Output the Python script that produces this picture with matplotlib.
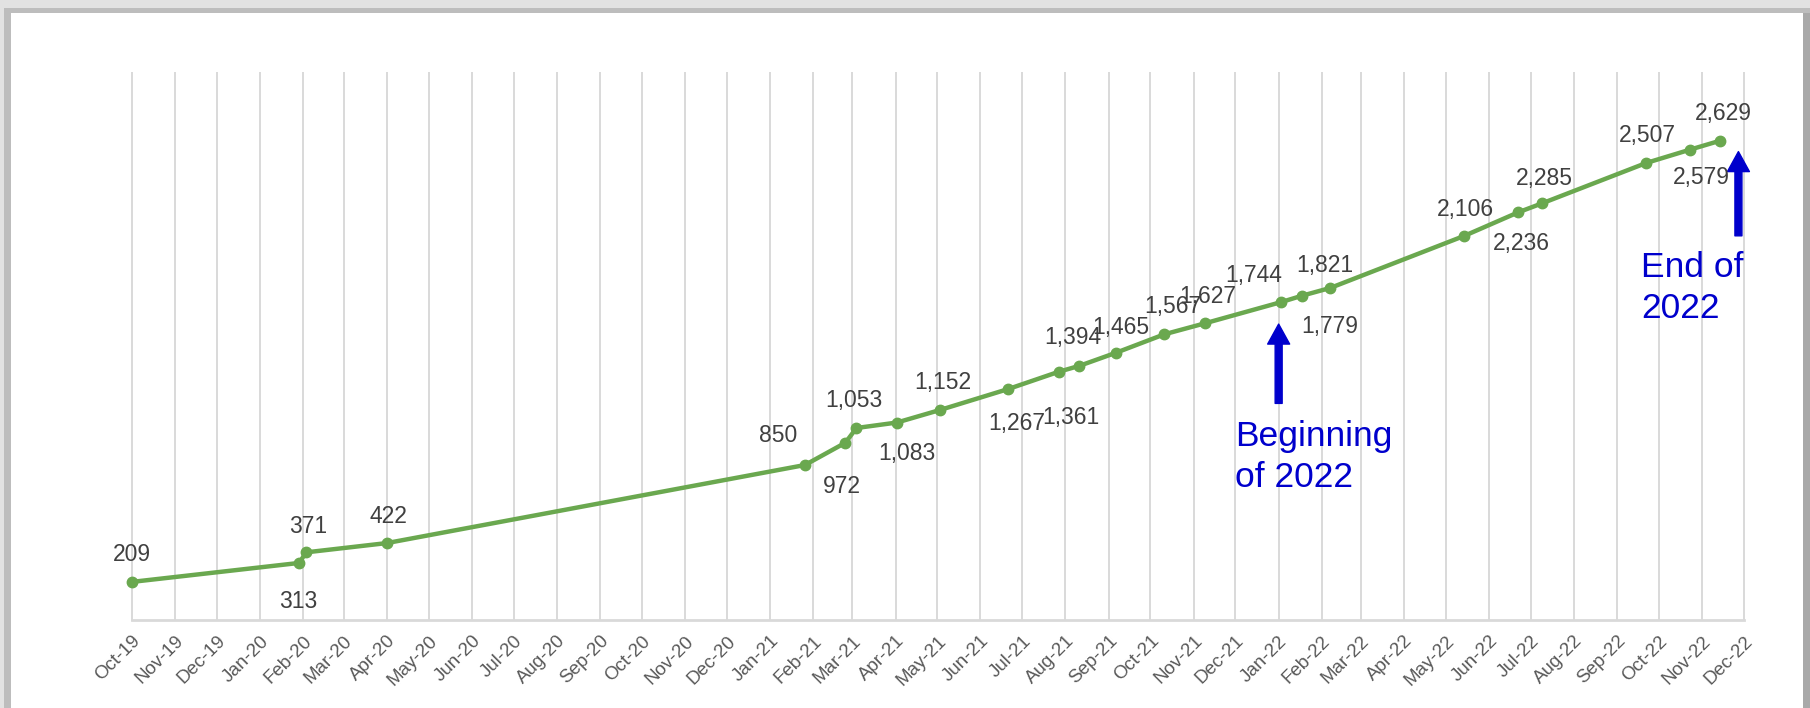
import matplotlib
matplotlib.use('Agg')
import matplotlib.pyplot as plt
import matplotlib.dates as mdates
from matplotlib.patches import Rectangle
import datetime as dt

plt.rcParams['font.family'] = ['Liberation Sans', 'DejaVu Sans']

# data
dates = ['2019-10-01', '2020-01-29', '2020-02-03', '2020-04-01',
         '2021-01-26', '2021-02-24', '2021-03-04', '2021-04-02',
         '2021-05-03', '2021-06-21', '2021-07-27', '2021-08-11',
         '2021-09-06', '2021-10-11', '2021-11-09', '2022-01-03',
         '2022-01-18', '2022-02-07', '2022-05-14', '2022-06-22',
         '2022-07-09', '2022-09-22', '2022-10-23', '2022-11-14']
values = [209, 313, 371, 422, 850, 972, 1053, 1083, 1152, 1267, 1361, 1394,
          1465, 1567, 1627, 1744, 1779, 1821, 2106, 2236, 2285, 2507, 2579, 2629]

# label offsets from each marker, in pixels (dx, dy)
label_dx = [0, -1, 2, 1, -27, -3, -3, 10, 3, 8, 12, -7,
            5, 8, 3, -28, 27, -5, 1, 3, 2, 1, 12, 3]
label_dy = [27, -39, 26, 27, 30, -44, 28, -31, 27, -35, -46, 28,
            25, 28, 27, 27, -31, 22, 27, -31, 25, 27, -28, 27]

x = [dt.datetime.strptime(d, '%Y-%m-%d') for d in dates]

GREEN = '#6aa84f'
BLUE = '#0000cc'
PX = 0.72  # points per pixel at dpi 100

fig = plt.figure(figsize=(18.1, 7.08), dpi=100)
fig.patch.set_facecolor('white')

# screenshot frame
fig.patches.append(Rectangle((0, 0), 1, 1, transform=fig.transFigure,
                             facecolor='#e2e2e2', edgecolor='none', zorder=-10))
fig.patches.append(Rectangle((4 / 1810, 0), 1806 / 1810, 700 / 708, transform=fig.transFigure,
                             facecolor='#bdbdbd', edgecolor='none', zorder=-9))
fig.patches.append(Rectangle((1803 / 1810, 0), 7 / 1810, 695 / 708, transform=fig.transFigure,
                             facecolor='#a9a9a9', edgecolor='none', zorder=-8))
fig.patches.append(Rectangle((11 / 1810, 0), 1792 / 1810, 695 / 708, transform=fig.transFigure,
                             facecolor='white', edgecolor='none', zorder=-7))

ax = fig.add_axes([132 / 1810, 88 / 708, (1744 - 132) / 1810, (620 - 73) / 708])
ax.set_facecolor('none')

ax.plot(x, values, color=GREEN, linewidth=3.2, marker='o', markersize=7.5, zorder=3,
        clip_on=False)

for xi, v, dx, dy in zip(x, values, label_dx, label_dy):
    ax.annotate(f'{v:,}', (xi, v), xytext=(dx * PX, dy * PX), textcoords='offset points',
                ha='center', va='center', fontsize=16.5, color='#404040', zorder=4)

ax.set_xlim(dt.datetime(2019, 10, 1), dt.datetime(2022, 12, 1))
ax.set_ylim(0, 3000)

ax.xaxis.set_major_locator(mdates.MonthLocator())
ax.xaxis.set_major_formatter(mdates.DateFormatter('%b-%y'))
ax.grid(axis='x', color='#d9d9d9', linewidth=1.4)
ax.set_axisbelow(True)
for gl in ax.get_xgridlines():
    gl.set_clip_on(False)
ax.set_yticks([])
for s in ['top', 'right', 'left']:
    ax.spines[s].set_visible(False)
ax.spines['bottom'].set_color('#d9d9d9')
ax.spines['bottom'].set_linewidth(2)
ax.tick_params(axis='x', length=0, pad=9, labelsize=13.5, labelcolor='#595959')
plt.setp(ax.get_xticklabels(), rotation=45, ha='right', rotation_mode='anchor')

# annotations
arrow = dict(facecolor=BLUE, edgecolor=BLUE, width=7 * PX, headwidth=22 * PX,
             headlength=20 * PX, shrink=0)
ax.annotate('', xy=(dt.datetime(2022, 1, 1), 1623), xytext=(dt.datetime(2022, 1, 1), 1188),
            arrowprops=arrow)
ax.text(dt.datetime(2021, 12, 1), 1095, 'Beginning\nof 2022', color=BLUE, fontsize=25.5,
        ha='left', va='top', linespacing=1.3)

ax.annotate('', xy=(dt.datetime(2022, 11, 27), 2569), xytext=(dt.datetime(2022, 11, 27), 2107),
            arrowprops=arrow)
ax.text(dt.datetime(2022, 9, 18), 2024, 'End of\n2022', color=BLUE, fontsize=25.5,
        ha='left', va='top', linespacing=1.3)

fig.savefig('out.png', dpi=100)
